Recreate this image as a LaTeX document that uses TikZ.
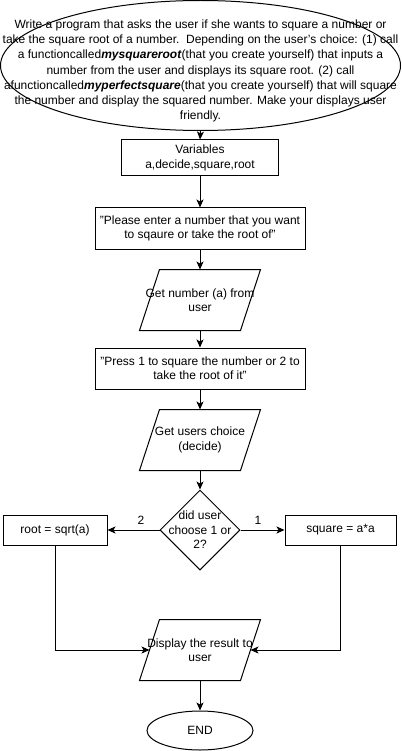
\documentclass[tikz,border=0pt]{standalone}
\usepackage{mathtools}
\usepackage{fontspec}
\setmainfont{Liberation Sans}
\usetikzlibrary{shapes.geometric,arrows.meta}

\begin{document}
\begin{tikzpicture}[x=1pt, y=-1pt, line width=1pt,
  every node/.style={font=\fontsize{12}{14.4}\selectfont, align=center},
  box/.style={draw, rectangle, inner sep=0pt},
  io/.style={rectangle, inner sep=0pt, minimum width=100pt, minimum height=60pt},
  flow/.style={-{Stealth[length=8pt, width=7pt, inset=2pt]}}]
\useasboundingbox (0,0) rectangle (401,751);
\node [draw, ellipse, inner sep=0pt, minimum width=400pt, minimum height=130pt] (task) at (200.5,65.5) {};
\node [font=\fontsize{12}{15.2}\selectfont] (tasktxt) at (200.5,71) {Write a program that asks the user if she wants to square a number or\\take the square root of a number.\ \ Depending on the user's choice: (1) call\\a functioncalled\textbf{\textit{mysquareroot}}(that you create yourself) that inputs a\\number from the user and displays its square root. (2) call\\afunctioncalled\textbf{\textit{myperfectsquare}}(that you create yourself) that will square\\the number and display the squared number. Make your displays user\\friendly.};
\node [box, minimum width=157pt, minimum height=36pt] (vars) at (200,158) {Variables\\a,decide,square,root};
\node [box, minimum width=210pt, minimum height=41pt] (please) at (200,228.5) {"Please enter a number that you want\\to sqaure or take the root of"};
\node [io] (getnum) at (200,300) {\clap{Get number (a) from}\\\clap{user}};
\node [box, minimum width=210pt, minimum height=41pt] (press) at (200,368.5) {"Press 1 to square the number or 2 to\\take the root of it"};
\node [io] (getchoice) at (200,440) {\clap{Get users choice}\\\clap{(decide)}};
\node [draw, diamond, inner sep=0pt, minimum width=80pt, minimum height=80pt] (choose) at (200,530) {};
\node (choosetxt) at (200,530) {did user\\choose 1 or\\2?};
\node [box, minimum width=104pt, minimum height=30pt] (root) at (55,530) {root = sqrt(a)};
\node [box, minimum width=111pt, minimum height=30pt] (square) at (340.5,530) {square = a*a};
\node (two) at (141,520) {2};
\node (one) at (258,520) {1};
\node [io] (disp) at (200,650) {\clap{Display the result to}\\\clap{user}};
\node [draw, ellipse, inner sep=0pt, minimum width=106pt, minimum height=39pt] (stop) at (200,730.5) {END};
% parallelograms round the io nodes
\foreach \n in {getnum,getchoice,disp}
  \draw ([xshift=-10pt]\n.south west) -- ([xshift=-10pt]\n.south east) -- ([xshift=10pt]\n.north east) -- ([xshift=10pt]\n.north west) -- cycle;
\draw [flow] (task.south) -- (vars.north);
\draw [flow] (vars) -- (please);
\draw [flow] (please) -- (getnum);
\draw [flow] (getnum) -- (press);
\draw [flow] (press) -- (getchoice);
\draw [flow] (getchoice) -- (choose);
\draw [flow] (choose.west) -- (root.east);
\draw [flow] (choose.east) -- (square.west);
\draw [flow] (root.south) |- (disp.west);
\draw [flow] (square.south) |- (disp.east);
\draw [flow] (disp) -- (stop);
\end{tikzpicture}
\end{document}
